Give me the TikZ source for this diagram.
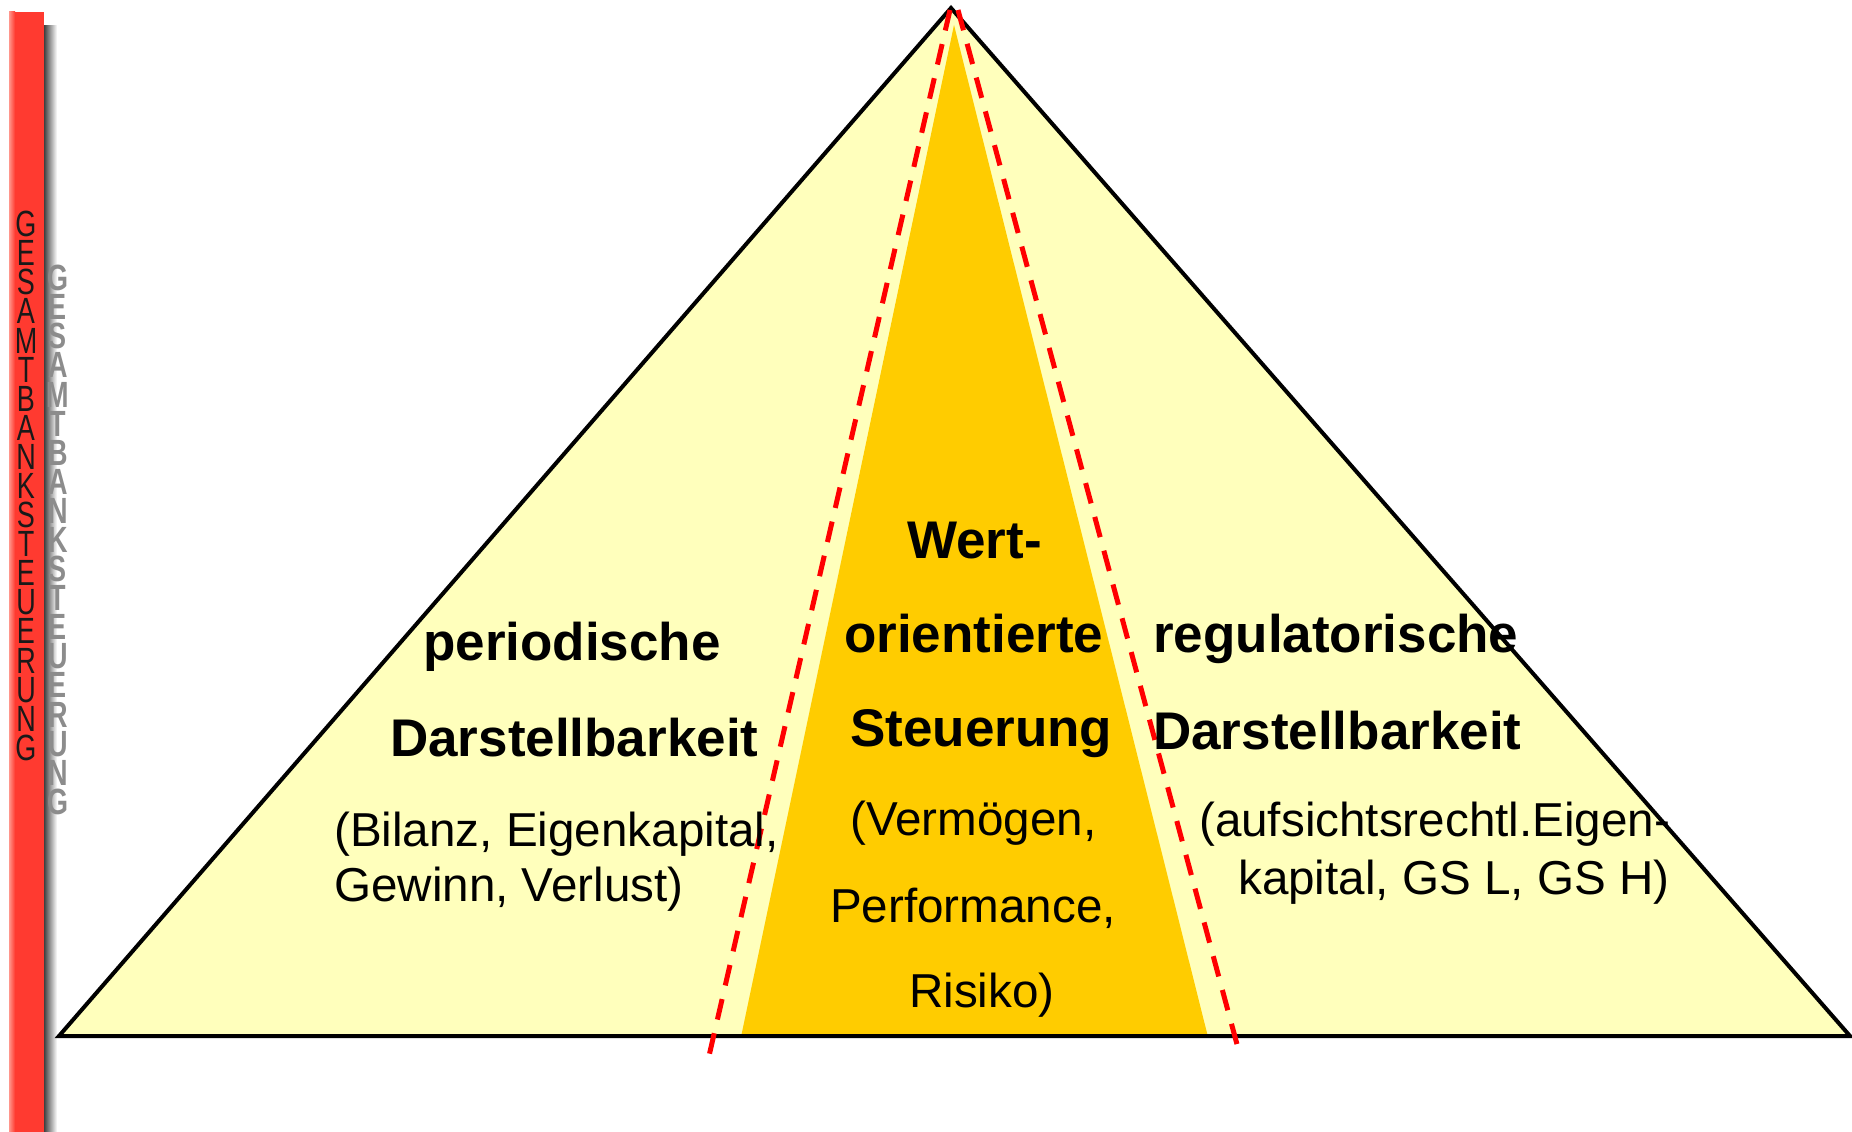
\documentclass[tikz,border=0pt]{standalone}
\usepackage{fontspec}
\setmainfont{Liberation Sans}
\newcommand\gbsletters{\scalebox{1}[1.35]{\parbox{34pt}{\centering\fontsize{27}{21.55}\selectfont G\\E\\S\\A\\M\\T\\B\\A\\N\\K\\S\\T\\E\\U\\E\\R\\U\\N\\G}}}
\begin{document}
\begin{tikzpicture}[x=1pt,y=-1pt,
  boldtxt/.style={inner sep=0pt,anchor=base west,font=\fontsize{53}{60}\selectfont\bfseries},
  regtxt/.style={inner sep=0pt,anchor=base west,font=\fontsize{47.6}{55}\selectfont},
  vtxt/.style={inner sep=0pt,anchor=north},
  reddash/.style={draw=red,line width=5pt,dash pattern=on 21pt off 14pt}]
\useasboundingbox (0,0) rectangle (1852,1132);
\fill[white] (0,0) rectangle (1852,1132);
% side bars
\fill[left color=black!75,right color=white] (44,26) rectangle (57,1132);
\fill[fill={rgb,255:red,255;green,58;blue,48}] (9,12) rectangle (44,1132);
\fill[left color={rgb,255:red,255;green,150;blue,140},right color={rgb,255:red,255;green,58;blue,48}] (9,12) rectangle (15,1132);
% pyramid
\coordinate (apex) at (951,8);
\coordinate (bl) at (59,1036);
\coordinate (br) at (1850,1036);
\coordinate (oapex) at (954,25);
\coordinate (obl) at (741,1037);
\coordinate (obr) at (1208,1037);
\fill[fill={rgb,255:red,255;green,255;blue,188}] (apex) -- (br) -- (bl) -- cycle;
\fill[fill={rgb,255:red,255;green,204;blue,0}] (oapex) -- (obr) -- (obl) -- cycle;
\draw[line width=4pt,line join=miter] (bl) -- (apex) -- (br) -- cycle;
% dashed lines
\coordinate (dla) at (950,10);
\coordinate (dlb) at (709,1056);
\coordinate (dra) at (958,10);
\coordinate (drb) at (1238,1048);
\draw[reddash] (dla) -- (dlb);
\draw[reddash] (dra) -- (drb);
% side text
\node[vtxt,text=black!45,font=\bfseries] (vshadow) at (58,265) {\gbsletters};
\node[vtxt,text=black!90] (vtext) at (26,211) {\gbsletters};
% centre text
\node[boldtxt] (w1) at (907,558) {Wert-};
\node[boldtxt] (w2) at (844,652) {orientierte};
\node[boldtxt] (w3) at (850,746) {Steuerung};
\node[regtxt] (w4) at (850,835) {(Vermögen,};
\node[regtxt] (w5) at (830,922) {Performance,};
\node[regtxt] (w6) at (909,1007) {Risiko)};
% left text
\node[boldtxt] (p1) at (423,660) {periodische};
\node[boldtxt] (p2) at (390,756) {Darstellbarkeit};
\node[regtxt] (p3) at (334,846) {(Bilanz, Eigenkapital,};
\node[regtxt] (p4) at (334,901) {Gewinn, Verlust)};
% right text
\node[boldtxt] (r1) at (1153,652) {regulatorische};
\node[boldtxt] (r2) at (1153,749) {Darstellbarkeit};
\node[regtxt] (r3) at (1199,836) {(aufsichtsrechtl.Eigen-};
\node[regtxt] (r4) at (1238,894) {kapital, GS L, GS H)};
\end{tikzpicture}
\end{document}
